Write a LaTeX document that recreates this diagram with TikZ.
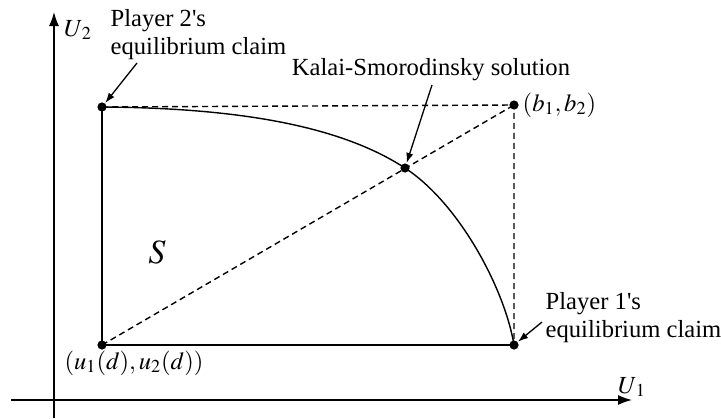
\documentclass[tikz,border=0pt]{standalone}
\usepackage{mathptmx}
\usepackage{fontspec}
\setmainfont{Liberation Serif}
\usetikzlibrary{arrows.meta}

\begin{document}
\begin{tikzpicture}[
    x=0.5pt, y=-0.5pt,
    line width=0.7pt,
    dot/.style={circle, fill, inner sep=0pt, minimum size=4.6pt},
    note/.style={align=left, font=\fontsize{12.3}{14}\selectfont, inner sep=0pt},
    guide/.style={dash pattern=on 3pt off 2pt},
    pointer/.style={-{Latex[length=5pt, width=3.6pt]}, line width=0.65pt}
]
\useasboundingbox (0,0) rectangle (721,418);

% Axes
\coordinate (H0) at (11,400);
\coordinate (H1) at (632,400);
\coordinate (V0) at (54,418);
\coordinate (V1) at (54,12);
\draw[-{Latex[length=7pt, width=5pt]}] (H0) -- (H1);
\draw[-{Latex[length=7pt, width=5pt]}] (V0) -- (V1);
\node[note] (U1) at (632,387) {$U_{\,1}$};
\node[note] (U2) at (78,30) {$U_{\,2}$};

% Points
\node[dot] (d) at (102,345) {};
\node[dot] (p2) at (102,107) {};
\node[dot] (p1) at (514,345) {};
\node[dot] (b) at (514,105) {};
\node[dot] (ks) at (405,168) {};

% Region S
\draw (p2.center) -- (d.center) -- (p1.center);
\draw (p2.center) .. controls (250,108) and (345,129) .. (ks.center)
      .. controls (460,204) and (505,290) .. (p1.center);
\draw[guide] (p2.center) -- (b.center) -- (p1.center);
\draw[guide] (d.center) -- (b.center);
\node[font=\fontsize{17}{20}\selectfont] (S) at (157,252) {$S$};

% Labels
\node[note, anchor=west] (claim2) at (110,35) {Player 2\textquotesingle s\\equilibrium claim};
\node[note] (kslabel) at (431,70) {Kalai-Smorodinsky solution};
\node[note, anchor=west] (blabel) at (522,105) {$(b_1,b_2)$};
\node[note] (dlabel) at (134,363) {$(u_1(d),u_2(d))$};
\node[note, anchor=west] (claim1) at (545,318) {Player 1\textquotesingle s\\equilibrium claim};

% Pointers
\coordinate (t2) at (137,63);
\coordinate (tks) at (432,85);
\coordinate (t1) at (542,322);
\draw[pointer] (t2) -- (p2);
\draw[pointer] (tks) -- (ks);
\draw[pointer] (t1) -- (p1);

\end{tikzpicture}
\end{document}
